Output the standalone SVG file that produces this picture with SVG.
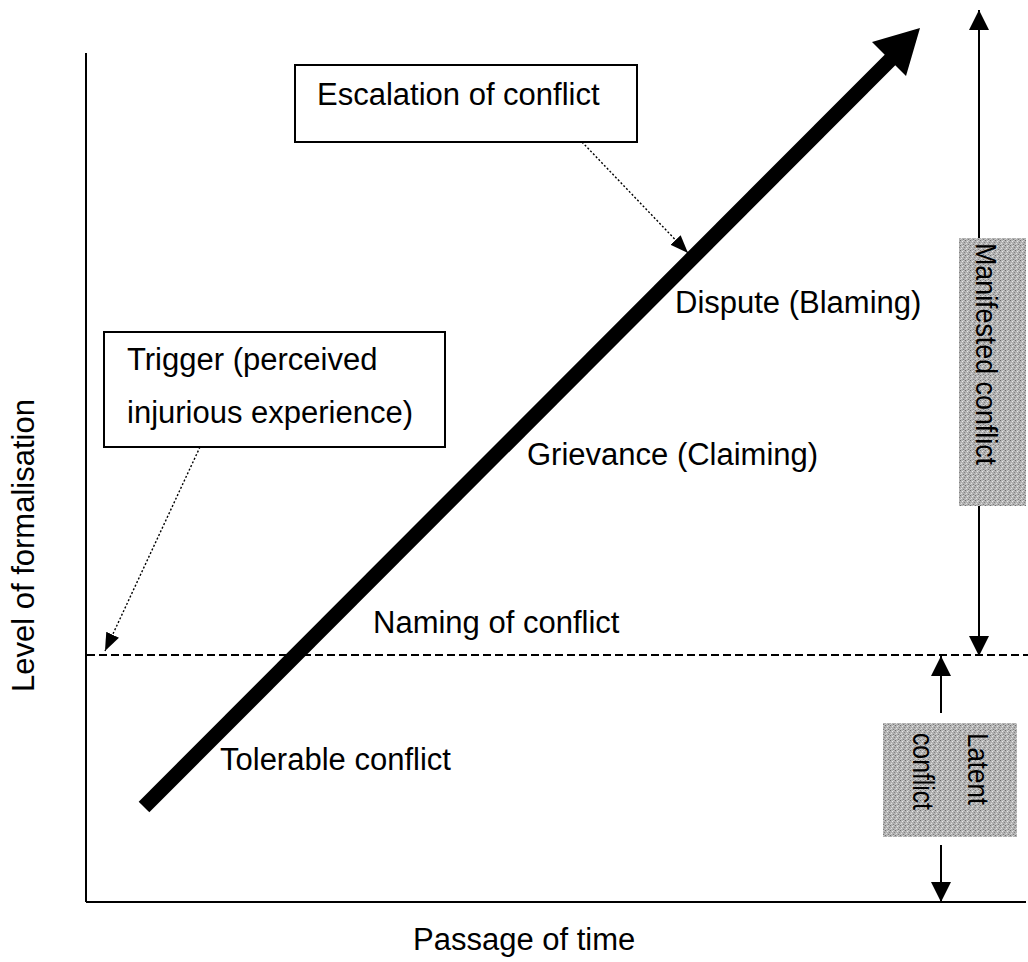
<svg xmlns="http://www.w3.org/2000/svg" width="1028" height="962" viewBox="0 0 1028 962">
<style>
.t{font-family:"Liberation Sans",Arial,sans-serif;font-size:31px;fill:#000}
.tv{font-family:"Liberation Sans",Arial,sans-serif;font-size:30px;fill:#000}
.box{fill:#fff;stroke:#000;stroke-width:2}
.shade{fill:url(#grain);stroke:none}
.ax{stroke:#000;stroke-width:2;fill:none}
.dot{stroke:#000;stroke-width:1.4;stroke-dasharray:2 2;fill:none}
.sol{stroke:#000;stroke-width:2;fill:none}
</style>
<defs>
<pattern id="grain" width="5" height="5" patternUnits="userSpaceOnUse">
<rect width="5" height="5" fill="#b2b2b2"/>
<rect x="0" y="0" width="1" height="1" fill="#6e6e6e"/>
<rect x="2" y="1" width="1" height="1" fill="#e8e8e8"/>
<rect x="4" y="2" width="1" height="1" fill="#838383"/>
<rect x="1" y="3" width="1" height="1" fill="#dedede"/>
<rect x="3" y="4" width="1" height="1" fill="#7c7c7c"/>
<rect x="3" y="0" width="1" height="1" fill="#d0d0d0"/>
<rect x="0" y="4" width="1" height="1" fill="#c8c8c8"/>
</pattern>
<marker id="hd" markerUnits="userSpaceOnUse" markerWidth="18" markerHeight="14" refX="18" refY="7" orient="auto">
<path d="M0,0 L18,7 L0,14 z" fill="#000"/>
</marker>
<marker id="hs" markerUnits="userSpaceOnUse" markerWidth="20" markerHeight="20" refX="20" refY="10" orient="auto">
<path d="M0,0 L20,10 L0,20 z" fill="#000"/>
</marker>
</defs>
<rect width="1028" height="962" fill="#fff"/>

<g id="axes">
<line class="ax" x1="86" y1="53" x2="86" y2="902"/>
<line class="ax" x1="86" y1="902" x2="1026" y2="902"/>
<line x1="87" y1="655" x2="1028" y2="655" stroke="#000" stroke-width="2" stroke-dasharray="8 4"/>
<text class="t" transform="rotate(-90 34 692)" x="34" y="692">Level of formalisation</text>
<text class="t" x="413" y="950">Passage of time</text>
</g>

<g id="escalation-arrow">
<line x1="144" y1="807" x2="891" y2="59" stroke="#000" stroke-width="15"/>
<polygon points="920,28 872,42 906,76" fill="#000"/>
</g>

<g id="box-escalation">
<rect class="box" x="295" y="65" width="342" height="77"/>
<text class="t" x="317" y="105">Escalation of conflict</text>
</g>

<g id="box-trigger">
<rect class="box" x="104" y="332" width="341" height="115"/>
<text class="t" x="127" y="370">Trigger (perceived</text>
<text class="t" x="127" y="423">injurious experience)</text>
</g>

<g id="label-dispute"><text class="t" x="675" y="313">Dispute (Blaming)</text></g>
<g id="label-grievance"><text class="t" x="527" y="465">Grievance (Claiming)</text></g>
<g id="label-naming"><text class="t" x="373" y="633">Naming of conflict</text></g>
<g id="label-tolerable"><text class="t" x="220" y="770">Tolerable conflict</text></g>

<g id="box-manifested">
<rect class="shade" x="959" y="238" width="67" height="268"/>
<text class="tv" transform="rotate(90 976 243)" x="976" y="243" textLength="222" lengthAdjust="spacingAndGlyphs">Manifested conflict</text>
</g>

<g id="box-latent">
<rect class="shade" x="883" y="723" width="134" height="114"/>
<text class="tv" transform="rotate(90 968 733)" x="968" y="733" textLength="72" lengthAdjust="spacingAndGlyphs">Latent</text>
<text class="tv" transform="rotate(90 913 733)" x="913" y="733" textLength="77" lengthAdjust="spacingAndGlyphs">conflict</text>
</g>

<g id="connectors">
<line class="dot" x1="582" y1="142" x2="688" y2="253" marker-end="url(#hd)"/>
<line class="dot" x1="200" y1="447" x2="105" y2="651" marker-end="url(#hd)"/>
<line class="sol" x1="979" y1="238" x2="979" y2="10" marker-end="url(#hs)"/>
<line class="sol" x1="979" y1="506" x2="979" y2="656" marker-end="url(#hs)"/>
<line class="sol" x1="941" y1="713" x2="941" y2="656" marker-end="url(#hs)"/>
<line class="sol" x1="941" y1="845" x2="941" y2="902" marker-end="url(#hs)"/>
</g>
</svg>
